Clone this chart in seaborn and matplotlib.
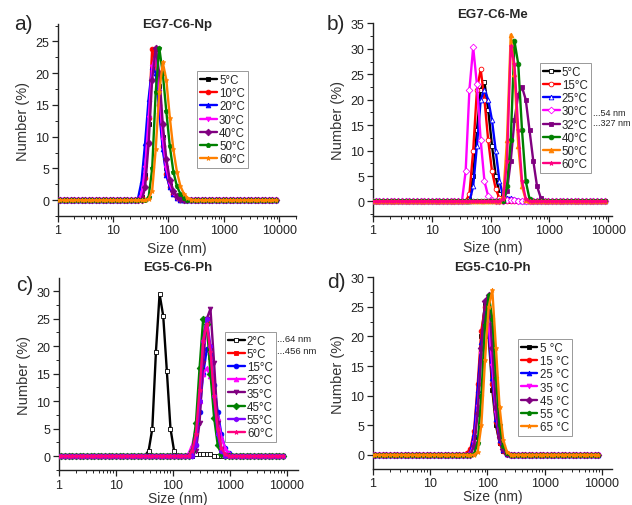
import matplotlib
matplotlib.use("Agg")
import matplotlib.pyplot as plt
import matplotlib.ticker as mticker
import seaborn as sns
import numpy as np

# instrument size bins (nm) visible in the plots
SIZES = [0.9649, 1.117, 1.294, 1.499, 1.736, 2.010, 2.328, 2.696, 3.122, 3.615,
         4.187, 4.849, 5.615, 6.503, 7.531, 8.721, 10.10, 11.70, 13.54, 15.69,
         18.17, 21.04, 24.36, 28.21, 32.67, 37.84, 43.82, 50.75, 58.77, 68.06,
         78.82, 91.28, 105.7, 122.4, 141.8, 164.2, 190.1, 220.2, 255.0, 295.3,
         342.0, 396.1, 458.7, 531.2, 615.1, 712.4, 825.0, 955.4, 1106, 1281,
         1484, 1718, 1990, 2305, 2669, 3091, 3580, 4145, 4801, 5560, 6439,
         7456, 8635]

# a) EG7-C6-Np, values from 28.21 nm onward
A_FROM = 28.21
A_LABELS = ["5°C", "10°C", "20°C", "30°C", "40°C", "50°C", "60°C"]
A_VALUES = [
    [0, 0.5, 4, 12, 21, 23.8, 18, 10, 5, 2.5, 1.2, 0.5, 0.2, 0, 0, 0],
    [0, 0.3, 3.5, 13, 23.8, 22, 15, 8.5, 4.2, 2, 0.9, 0.4, 0.1, 0, 0, 0],
    [0.3, 3, 9, 16, 21, 20, 14, 8, 4, 2, 0.9, 0.3, 0, 0, 0, 0],
    [0, 1, 5, 13, 21, 23, 17, 9.5, 5, 2.5, 1.1, 0.4, 0, 0, 0, 0],
    [0, 0, 2, 9, 19, 24, 20, 12, 6.5, 3.2, 1.5, 0.6, 0.2, 0, 0, 0],
    [0, 0, 0, 0.5, 5, 17, 24, 20, 14, 8.5, 4.5, 2.2, 1, 0.4, 0.1, 0],
    [0, 0, 0, 0.2, 1.5, 8, 17, 21.7, 19, 13, 8, 4.5, 2.2, 1, 0.4, 0.1],
]

# b) EG7-C6-Me, values from 32.67 nm onward
B_FROM = 32.67
B_LABELS = ["5°C", "15°C", "25°C", "30°C", "32°C", "40°C", "50°C", "60°C"]
B_VALUES = [
    [0, 0, 0.5, 5, 14, 22, 23.5, 18, 11, 5, 1.5, 0.3, 0, 0, 0, 0, 0, 0, 0, 0, 0, 0, 0],
    [0, 0, 1.5, 10, 22, 26, 20, 12, 6, 2.5, 0.6, 0, 0, 0, 0, 0, 0, 0, 0, 0, 0, 0, 0],
    [0, 0, 0, 3, 11, 20, 22, 20, 16, 10, 4, 1, 0.7, 0.7, 0.5, 0.3, 0, 0, 0, 0, 0, 0, 0],
    [0, 6, 22, 30.3, 23, 12, 4, 1, 0.2, 0, 0, 0, 0.3, 0.3, 0.3, 0, 0, 0, 0, 0, 0, 0, 0],
    [0, 0, 0, 0, 0, 0, 0, 0, 0, 0, 0, 0, 2, 8, 16, 21, 22.5, 20, 14, 8, 3, 0.7, 0.1],
    [0, 0, 0, 0, 0, 0, 0, 0, 0, 0, 0, 0, 3, 12, 31.5, 27, 14, 4, 0.5, 0, 0, 0, 0],
    [0, 0, 0, 0, 0, 0, 0, 0, 0, 0, 0, 1, 12, 32.8, 25, 11, 3, 0.3, 0, 0, 0, 0, 0],
    [0, 0, 0, 0, 0, 0, 0, 0, 0, 0, 0, 0.5, 8, 30.5, 27, 14, 4, 0.5, 0, 0, 0, 0, 0],
]

# c) EG5-C6-Ph, values from 32.67 nm onward
C_FROM = 32.67
C_LABELS = ["2°C", "5°C", "15°C", "25°C", "35°C", "45°C", "55°C", "60°C"]
C_VALUES = [
    [0, 1, 5, 19, 29.5, 25.5, 15.5, 5, 0.9, 0, 0, 0, 0, 0, 0.3, 0.3, 0.3, 0.3, 0.3, 0, 0, 0, 0, 0, 0],
    [0, 0, 0, 0, 0, 0, 0, 0, 0, 0, 0, 0, 0, 0.5, 4, 13, 22, 24.5, 18, 10, 4, 1, 0.2, 0, 0],
    [0, 0, 0, 0, 0, 0, 0, 0, 0, 0, 0, 0, 0, 0, 2, 8, 15, 19.5, 18.5, 13, 8, 4, 1.5, 0.5, 0],
    [0, 0, 0, 0, 0, 0, 0, 0, 0, 0, 0, 0, 0.5, 2, 5, 10, 15, 16, 14.5, 11, 7, 3.5, 1.5, 0.5, 0],
    [0, 0, 0, 0, 0, 0, 0, 0, 0, 0, 0, 0, 0, 0, 1, 6, 17, 25, 26.8, 17, 6, 1.2, 0.1, 0, 0],
    [0, 0, 0, 0, 0, 0, 0, 0, 0, 0, 0, 0, 0, 1, 6, 16, 25, 24, 15, 7, 2, 0.3, 0, 0, 0],
    [0, 0, 0, 0, 0, 0, 0, 0, 0, 0, 0, 0, 0, 0, 2, 10, 21, 25, 20, 11, 4, 1, 0, 0, 0],
    [0, 0, 0, 0, 0, 0, 0, 0, 0, 0, 0, 0, 0, 1, 4, 12, 21, 24, 19, 11, 5, 1.5, 0.3, 0, 0],
]

# d) EG5-C10-Ph, values from 43.82 nm onward
D_FROM = 43.82
D_LABELS = ["5 °C", "15 °C", "25 °C", "35 °C", "45 °C", "55 °C", "65 °C"]
D_VALUES = [
    [0, 0.3, 3, 10, 20, 25.5, 20, 11, 5, 2, 0.6, 0.1, 0],
    [0.3, 1, 4, 12, 21, 25, 21, 12, 5.5, 2, 0.6, 0.1, 0],
    [0, 0.5, 3.5, 11, 19, 24, 21, 13, 6, 2.5, 0.8, 0.2, 0],
    [0, 0.2, 2, 8, 17, 22, 22, 15, 7, 3, 1, 0.2, 0],
    [0, 0, 1.5, 7, 18, 26, 27, 18, 8, 3, 1, 0.2, 0],
    [0, 0, 0.2, 2, 10, 22, 27, 23, 13, 5, 1.5, 0.3, 0],
    [0, 0, 0, 0.5, 5, 16, 25, 27.8, 18, 8, 2.5, 0.5, 0],
]

BLACK, RED, BLUE, MAG = "#000000", "#ff0000", "#0000ff", "#ff00ff"
PURPLE, GREEN, ORANGE = "#800080", "#008000", "#ff8000"
VIOLET, PINK = "#8000ff", "#ff0080"

panels = [
    dict(tag="a)", title="EG7-C6-Np", start=A_FROM, labels=A_LABELS, values=A_VALUES,
         colors=[BLACK, RED, BLUE, MAG, PURPLE, GREEN, ORANGE],
         markers=["s", "o", "^", "v", "D", "p", "*"], hollow=[],
         pos=[0.0913, 0.571, 0.377, 0.379], ylim=(-2.5, 27.7), yticks=range(0, 26, 5),
         xmax=20000, leg=(0.585, 0.755), title_xy=(176.9, 25), tag_xy=(23, 25), xpad=3),
    dict(tag="b)", title="EG7-C6-Me", start=B_FROM, labels=B_LABELS, values=B_VALUES,
         colors=[BLACK, RED, BLUE, MAG, PURPLE, GREEN, ORANGE, PINK],
         markers=["s", "o", "^", "D", "s", "o", "^", "*"], hollow=[0, 1, 2, 3],
         pos=[0.5897, 0.5717, 0.3786, 0.380], ylim=(-2.8, 35), yticks=range(0, 36, 5),
         xmax=11500, leg=(0.699, 0.794), title_xy=(492, 15), tag_xy=(336, 25), xpad=3),
    dict(tag="c)", title="EG5-C6-Ph", start=C_FROM, labels=C_LABELS, values=C_VALUES,
         colors=[BLACK, RED, BLUE, MAG, PURPLE, GREEN, VIOLET, PINK],
         markers=["s", "s", "o", "^", "v", "D", "h", "*"], hollow=[0],
         pos=[0.0929, 0.0686, 0.378, 0.380], ylim=(-2.6, 32.4), yticks=range(0, 31, 5),
         xmax=15500, leg=(0.696, 0.719), title_xy=(178, 268), tag_xy=(25, 286), xpad=0),
    dict(tag="d)", title="EG5-C10-Ph", start=D_FROM, labels=D_LABELS, values=D_VALUES,
         colors=[BLACK, RED, BLUE, MAG, PURPLE, GREEN, ORANGE],
         markers=["s", "o", "^", "v", "D", "p", "*"], hollow=[],
         pos=[0.5897, 0.0711, 0.3786, 0.379], ylim=(-2.4, 30), yticks=range(0, 31, 5),
         xmax=15000, leg=(0.606, 0.677), title_xy=(492, 268), tag_xy=(336, 283), xpad=0),
]

sns.set_style("ticks")
plt.rcParams["font.family"] = ["Liberation Sans", "DejaVu Sans"]

W, H = 632, 506
fig = plt.figure(figsize=(W / 100, H / 100), dpi=100)

for p in panels:
    ax = fig.add_axes(p["pos"])
    i0 = SIZES.index(p["start"])
    for k, (lab, vals) in enumerate(zip(p["labels"], p["values"])):
        full = [0.0] * i0 + list(vals)
        full += [0.0] * (len(SIZES) - len(full))
        face = "white" if k in p["hollow"] else p["colors"][k]
        sns.lineplot(x=SIZES, y=full, ax=ax, color=p["colors"][k], marker=p["markers"][k],
                     markersize=3.4, markerfacecolor=face, markeredgecolor=p["colors"][k],
                     markeredgewidth=0.6, linewidth=1.7, label=lab, zorder=3 + k * 0.01)
    ax.set_xscale("log")
    ax.set_xlim(1, p["xmax"])
    ax.set_ylim(*p["ylim"])
    ax.set_xticks([1, 10, 100, 1000, 10000])
    ax.xaxis.set_major_formatter(mticker.FuncFormatter(lambda v, _: f"{v:g}"))
    ax.xaxis.set_minor_locator(mticker.LogLocator(base=10, subs=np.arange(2, 10)))
    ax.xaxis.set_minor_formatter(mticker.NullFormatter())
    ax.set_yticks(list(p["yticks"]))
    ax.yaxis.set_minor_locator(mticker.MultipleLocator(2.5))
    ax.tick_params(axis="both", which="major", labelsize=9, length=4, width=0.9,
                   direction="out", pad=2, colors="#222222")
    ax.tick_params(axis="both", which="minor", length=2, width=0.7, direction="out")
    ax.set_xlabel("Size (nm)", fontsize=10, labelpad=p["xpad"], color="#333333")
    ax.set_ylabel("Number (%)", fontsize=10.5, labelpad=4, color="#333333")
    sns.despine(ax=ax)
    for s in ("left", "bottom"):
        ax.spines[s].set_linewidth(1.0)
        ax.spines[s].set_color("#222222")
    ax.grid(False)
    leg = ax.legend(loc="upper left", bbox_to_anchor=p["leg"], borderaxespad=0,
                    fontsize=8.3, frameon=True, fancybox=False, edgecolor="#999999",
                    handlelength=1.45, handletextpad=0.2, labelspacing=0.1,
                    borderpad=0.25, framealpha=1)
    leg.get_frame().set_linewidth(0.7)
    fig.text(p["title_xy"][0] / W, 1 - p["title_xy"][1] / H, p["title"],
             ha="center", va="center", fontsize=9.5, fontweight="bold")
    fig.text(p["tag_xy"][0] / W, 1 - p["tag_xy"][1] / H, p["tag"],
             ha="center", va="center", fontsize=15)

# size notes next to the legends
fig.text(593 / W, 1 - 113 / H, "...54 nm", fontsize=6.5, va="center")
fig.text(593 / W, 1 - 124 / H, "...327 nm", fontsize=6.5, va="center")
fig.text(277 / W, 1 - 339 / H, "...64 nm", fontsize=6.8, va="center")
fig.text(277 / W, 1 - 352 / H, "...456 nm", fontsize=6.8, va="center")

fig.savefig("out.png", dpi=100)
